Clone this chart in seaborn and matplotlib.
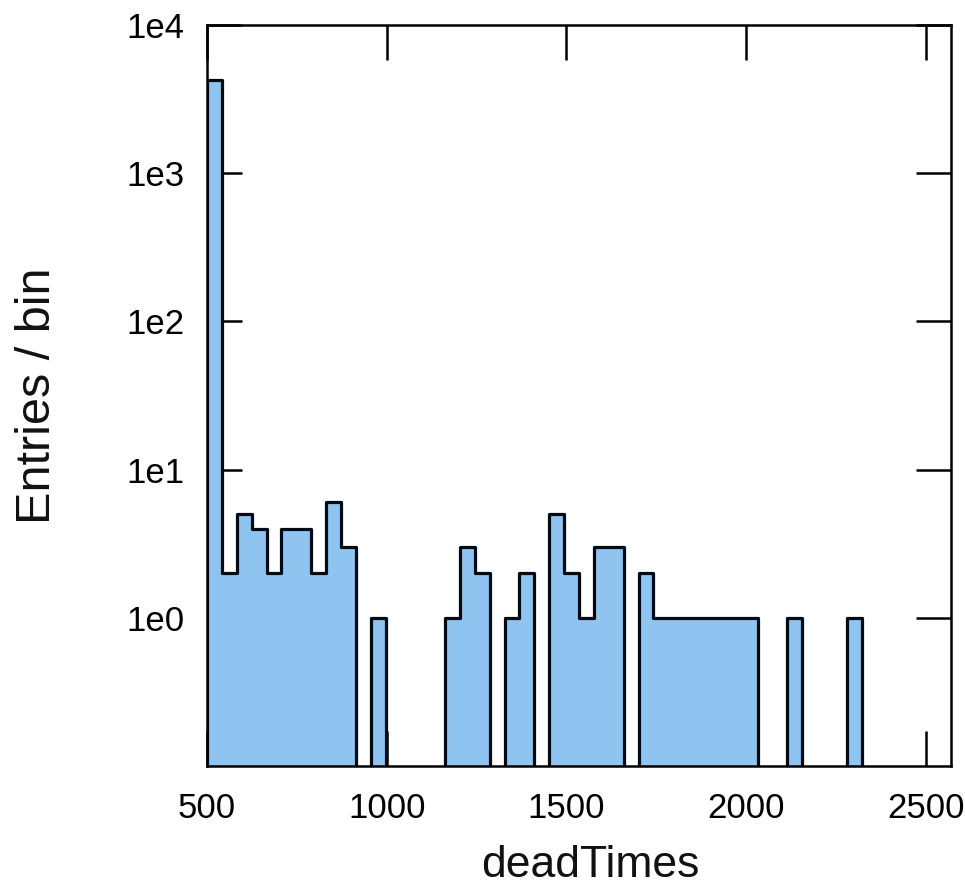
import numpy as np
import pandas as pd
import matplotlib
matplotlib.use("Agg")
import matplotlib.pyplot as plt
from matplotlib.ticker import FixedLocator, FixedFormatter, NullLocator
import seaborn as sns

# ---- data ----
x_min = 500.0
x_max = 2570.0
n_bins = 50
counts = [4250, 2, 5, 4, 2, 4, 4, 2, 6, 3,
          0, 1, 0, 0, 0, 0, 1, 3, 2, 0,
          1, 2, 0, 5, 2, 1, 3, 3, 0, 2,
          1, 1, 1, 1, 1, 1, 1, 0, 0, 1,
          0, 0, 0, 1, 0, 0, 0, 0, 0, 0]
x_ticks = [500, 1000, 1500, 2000, 2500]
x_ticklabels = ["500", "1000", "1500", "2000", "2500"]
y_ticks = [1, 10, 100, 1000, 10000]
y_ticklabels = ["1e0", "1e1", "1e2", "1e3", "1e4"]
x_label = "deadTimes"
y_label = "Entries / bin"

edges = np.linspace(x_min, x_max, n_bins + 1)
centers = 0.5 * (edges[:-1] + edges[1:])
df = pd.DataFrame({"deadTimes": centers, "w": np.asarray(counts, dtype=float)})

sns.set_style("white")
plt.rcParams["font.family"] = ["Liberation Sans", "DejaVu Sans"]

fig = plt.figure(figsize=(9.65, 8.88), dpi=100)
ax = fig.add_axes([207 / 965, 1 - 766 / 888, (951 - 207) / 965, (766 - 25) / 888])

sns.histplot(data=df, x="deadTimes", weights="w", bins=n_bins,
             binrange=(x_min, x_max), element="step",
             fill=True, color="#8ec4ef", alpha=1.0, edgecolor="#000a14",
             linewidth=2.3, ax=ax)

ax.set_yscale("log")
ax.set_xlim(x_min, x_max)
ax.set_ylim(0.1, 1e4)

ax.xaxis.set_major_locator(FixedLocator(x_ticks))
ax.xaxis.set_major_formatter(FixedFormatter(x_ticklabels))
ax.yaxis.set_major_locator(FixedLocator(y_ticks))
ax.yaxis.set_major_formatter(FixedFormatter(y_ticklabels))
ax.xaxis.set_minor_locator(NullLocator())
ax.yaxis.set_minor_locator(NullLocator())

ax.tick_params(axis="both", which="major", direction="in", length=25, width=1.8,
               color="black", top=True, right=True, bottom=True, left=True,
               labelsize=25, labelcolor="black")
ax.tick_params(axis="x", pad=19)
ax.tick_params(axis="y", pad=16)

for s in ax.spines.values():
    s.set_visible(True)
    s.set_color("black")
    s.set_linewidth(1.8)

ax.set_xlabel(x_label, fontsize=32, color="#111111")
ax.set_ylabel(y_label, fontsize=35, color="#111111")
ax.xaxis.set_label_coords(0.515, -0.106)
ax.yaxis.set_label_coords(-0.198, 0.5)
ax.grid(False)
ax.set_facecolor("white")

fig.savefig("out.png", dpi=100, facecolor="white")
